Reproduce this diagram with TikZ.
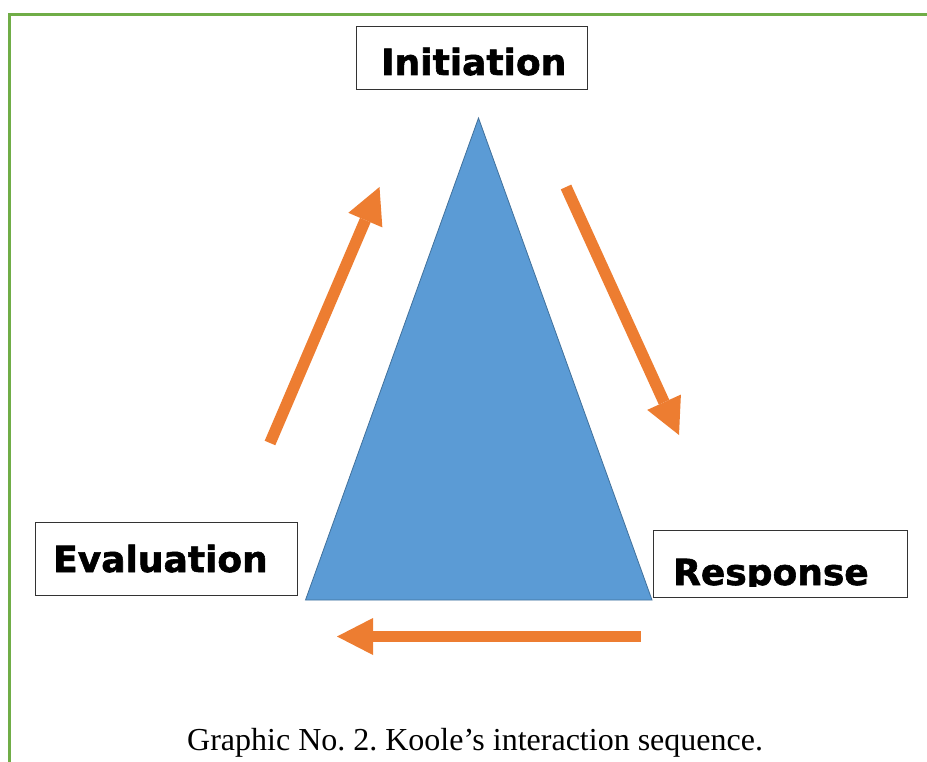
\documentclass[tikz,border=0pt]{standalone}
\usepackage{fontspec}
\setmainfont{Liberation Serif}
\newfontfamily\boxfont{DejaVu Sans}[BoldFeatures={FakeBold=1.6}]
\usetikzlibrary{arrows.meta}
\definecolor{framegreen}{HTML}{70AD47}
\definecolor{trifill}{HTML}{5B9BD5}
\definecolor{triedge}{HTML}{41719C}
\definecolor{arroworange}{HTML}{ED7D31}
\tikzset{
  labelbox/.style={draw=black!80, line width=1pt, fill=white, inner sep=0pt, anchor=north west},
  labeltext/.style={inner sep=0pt, anchor=base west, font=\boxfont\bfseries\fontsize{36}{40}\selectfont},
  flowarrow/.style={draw=arroworange, line width=11.5pt,
    -{Triangle[length=36pt,width=37pt,line width=0pt]}},
}
\begin{document}
\frenchspacing
\begin{tikzpicture}[x=1pt,y=-1pt]
\useasboundingbox (0,0) rectangle (927,762);
% frame
\coordinate (fbl) at (9.5,762);
\coordinate (ftl) at (9.5,14.5);
\coordinate (ftr) at (927,14.5);
\draw[framegreen, line width=2.6pt] (fbl) -- (ftl) -- (ftr);
% triangle
\coordinate (apex) at (478.5,118);
\coordinate (bl) at (305.5,600);
\coordinate (br) at (652,600);
\draw[fill=trifill, draw=triedge, line width=0.8pt] (apex) -- (bl) -- (br) -- cycle;
% boxes
\node[labelbox, minimum width=231pt, minimum height=63pt] (initbox) at (356,26) {};
\node[labeltext] (inittext) at (381,75) {Initiation};
\node[labelbox, minimum width=262pt, minimum height=73pt] (evalbox) at (35,522) {};
\node[labeltext] (evaltext) at (53,572) {Evaluation};
\node[labelbox, minimum width=254pt, minimum height=67pt] (respbox) at (653,530) {};
\begin{scope}
\clip (653,530) rectangle (907,586);
\node[labeltext] (resptext) at (673,585) {Response};
\end{scope}
% arrows
\coordinate (a1s) at (270,443);
\coordinate (a1e) at (379.5,187);
\coordinate (a2s) at (566,187);
\coordinate (a2e) at (679,435);
\coordinate (a3s) at (640.5,636.5);
\coordinate (a3e) at (337,636.5);
\draw[flowarrow] (a1s) -- (a1e);
\draw[flowarrow] (a2s) -- (a2e);
\draw[flowarrow] (a3s) -- (a3e);
% caption
\node[inner sep=0pt, anchor=base west, font=\fontsize{32}{36}\selectfont] (caption) at (187,750) {Graphic No. 2. Koole’s interaction sequence.};
\end{tikzpicture}
\end{document}
